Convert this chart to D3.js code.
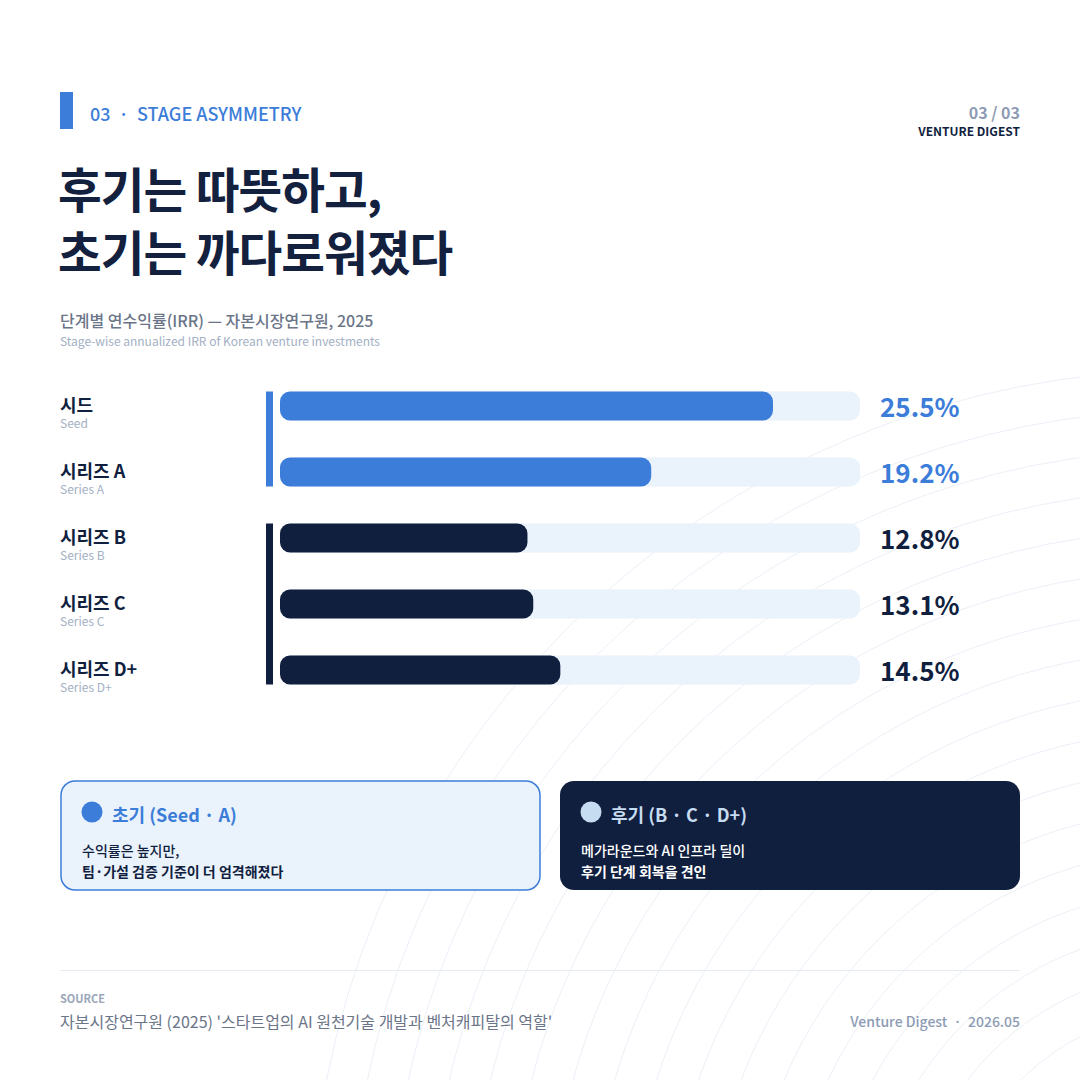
<!DOCTYPE html>
<html>
<head>
<meta charset="utf-8">
<script src="https://cdn.jsdelivr.net/npm/d3@7"></script>
<style>
  html, body { margin: 0; padding: 0; background: #ffffff; }
  svg { display: block; font-family: "Noto Sans CJK KR", "Noto Sans", sans-serif; }
  .pre { white-space: pre; }
</style>
</head>
<body>
<div id="chart"></div>
<script>
// stage data
const stagesKo = ['시드', '시리즈 A', '시리즈 B', '시리즈 C', '시리즈 D+'];
const stagesEn = ['Seed', 'Series A', 'Series B', 'Series C', 'Series D+'];
const irr = [25.5, 19.2, 12.8, 13.1, 14.5];
const stageGroup = ['early', 'early', 'late', 'late', 'late'];
const xTicks = [0, 30];

const BLUE = '#3b7dd8';
const NAVY = '#111f3f';
const TRACK = '#eaf2fc';

const W = 1080, H = 1080;
const svg = d3.select('#chart')
  .append('svg')
  .attr('width', W)
  .attr('height', H);

// faint concentric arcs in the lower right
const arcs = svg.append('g').attr('fill', 'none').attr('stroke', '#ebf0f7').attr('stroke-width', 1);
d3.range(1, 23).forEach(i => {
  arcs.append('circle')
    .attr('cx', 1190)
    .attr('cy', 1250)
    .attr('r', i * 40);
});

// header
svg.append('rect').attr('x', 60).attr('y', 92).attr('width', 13).attr('height', 37).attr('fill', BLUE);
svg.append('text')
  .attr('class', 'pre')
  .attr('x', 90).attr('y', 121)
  .style('font-size', '18px').style('font-weight', 500)
  .attr('fill', BLUE)
  .text('03  ·  STAGE ASYMMETRY');

svg.append('text')
  .attr('x', 1020).attr('y', 119)
  .attr('text-anchor', 'end')
  .style('font-size', '16px').style('font-weight', 700)
  .attr('fill', '#8d9bb4')
  .text('03 / 03');
svg.append('text')
  .attr('x', 1020).attr('y', 136)
  .attr('text-anchor', 'end')
  .style('font-size', '12px').style('font-weight', 700)
  .attr('fill', NAVY)
  .text('VENTURE DIGEST');

// title
const titleLines = ['후기는 따뜻하고,', '초기는 까다로워졌다'];
svg.append('g').selectAll('text')
  .data(titleLines)
  .join('text')
  .attr('x', 58)
  .attr('y', (d, i) => 208 + i * 63)
  .style('font-size', '47.5px').style('font-weight', 700)
  .style('letter-spacing', '-1px')
  .attr('fill', '#13213f')
  .text(d => d);

svg.append('text')
  .attr('x', 60).attr('y', 327)
  .style('font-size', '16px').style('font-weight', 500)
  .attr('fill', '#6b7588')
  .text('단계별 연수익률(IRR) — 자본시장연구원, 2025');
svg.append('text')
  .attr('x', 60).attr('y', 346)
  .style('font-size', '12px')
  .attr('fill', '#a3b0c4')
  .text('Stage-wise annualized IRR of Korean venture investments');

// scales
const x = d3.scaleLinear().domain([xTicks[0], xTicks[1]]).range([280, 860]);
const y = d3.scalePoint().domain(stagesKo).range([406, 670]);
const barH = 29;

const rows = stagesKo.map((s, i) => ({ ko: s, en: stagesEn[i], v: irr[i], g: stageGroup[i] }));

// group markers
['early', 'late'].forEach(g => {
  const members = rows.filter(d => d.g === g);
  const top = y(members[0].ko) - barH / 2;
  const bottom = y(members[members.length - 1].ko) + barH / 2;
  svg.append('rect')
    .attr('x', 266).attr('y', top)
    .attr('width', 7).attr('height', bottom - top)
    .attr('fill', g === 'early' ? BLUE : NAVY);
});

const row = svg.append('g').selectAll('g')
  .data(rows)
  .join('g');

row.append('rect')
  .attr('x', x(0)).attr('y', d => y(d.ko) - barH / 2)
  .attr('width', x(xTicks[1]) - x(0)).attr('height', barH)
  .attr('rx', 10)
  .attr('fill', TRACK);

row.append('rect')
  .attr('x', x(0)).attr('y', d => y(d.ko) - barH / 2)
  .attr('width', d => x(d.v) - x(0)).attr('height', barH)
  .attr('rx', 10)
  .attr('fill', d => d.g === 'early' ? BLUE : NAVY);

row.append('text')
  .attr('x', 60).attr('y', d => y(d.ko) + 6)
  .style('font-size', '18px').style('font-weight', 700)
  .attr('fill', NAVY)
  .text(d => d.ko);

row.append('text')
  .attr('x', 60).attr('y', d => y(d.ko) + 22)
  .style('font-size', '12px')
  .attr('fill', '#a3b0c4')
  .text(d => d.en);

row.append('text')
  .attr('x', 880).attr('y', d => y(d.ko) + 11)
  .style('font-size', '26px').style('font-weight', 700)
  .attr('fill', d => d.g === 'early' ? BLUE : NAVY)
  .text(d => d.v.toFixed(1) + '%');

// summary cards
const cards = [
  { x: 61, w: 479, fill: '#eaf2fc', stroke: BLUE, dot: BLUE, titleColor: BLUE, bodyColor: NAVY,
    title: '초기 (Seed · A)', lines: ['수익률은 높지만,', '팀·가설 검증 기준이 더 엄격해졌다'] },
  { x: 560, w: 460, fill: NAVY, stroke: 'none', dot: '#c6dcf0', titleColor: '#c6dcf0', bodyColor: '#ffffff',
    title: '후기 (B · C · D+)', lines: ['메가라운드와 AI 인프라 딜이', '후기 단계 회복을 견인'] }
];

const card = svg.append('g').selectAll('g')
  .data(cards)
  .join('g')
  .attr('transform', d => `translate(${d.x},781)`);

card.append('rect')
  .attr('width', d => d.w).attr('height', 109)
  .attr('rx', 14)
  .attr('fill', d => d.fill)
  .attr('stroke', d => d.stroke)
  .attr('stroke-width', 1.5);

card.append('circle')
  .attr('cx', 31).attr('cy', 31).attr('r', 10.5)
  .attr('fill', d => d.dot);

card.append('text')
  .attr('x', 51).attr('y', 41)
  .style('font-size', '18px').style('font-weight', 700)
  .attr('fill', d => d.titleColor)
  .text(d => d.title);

card.selectAll('text.body')
  .data(d => d.lines.map((t, i) => ({ t, i, c: d.bodyColor })))
  .join('text')
  .attr('class', 'body')
  .attr('x', 21).attr('y', d => 75 + d.i * 21)
  .style('font-size', '14px')
  .style('font-weight', d => d.i === 0 ? 500 : 700)
  .attr('fill', d => d.c)
  .text(d => d.t);

// footer
svg.append('line')
  .attr('x1', 60).attr('x2', 1020).attr('y1', 970.5).attr('y2', 970.5)
  .attr('stroke', '#e6ebf2');
svg.append('text')
  .attr('x', 60).attr('y', 1003)
  .style('font-size', '11px').style('font-weight', 700)
  .attr('fill', '#9aa6ba')
  .text('SOURCE');
svg.append('text')
  .attr('x', 60).attr('y', 1028)
  .style('font-size', '16px')
  .attr('fill', '#6b7588')
  .text("자본시장연구원 (2025) '스타트업의 AI 원천기술 개발과 벤처캐피탈의 역할'");
svg.append('text')
  .attr('class', 'pre')
  .attr('x', 1020).attr('y', 1027)
  .attr('text-anchor', 'end')
  .style('font-size', '14px').style('font-weight', 500)
  .attr('fill', '#8d9bb4')
  .text('Venture Digest  ·  2026.05');
</script>
</body>
</html>
